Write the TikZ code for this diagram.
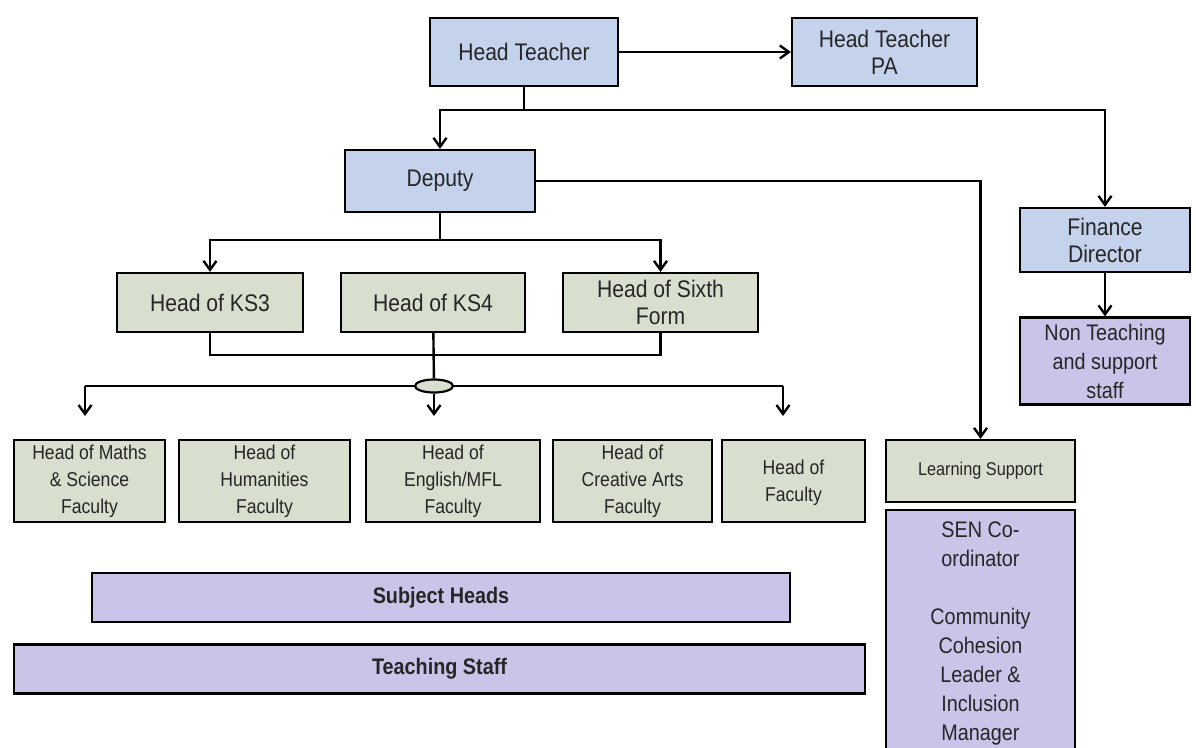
\documentclass[tikz,border=0pt]{standalone}
\usepackage{fontspec}
\setmainfont{Liberation Sans}[FakeStretch=0.88]
\usetikzlibrary{arrows.meta,positioning,shapes.geometric,shadows}

\definecolor{topblue}{RGB}{197,210,236}
\definecolor{midgreen}{RGB}{216,223,206}
\definecolor{lowlilac}{RGB}{202,196,232}
\definecolor{inkgrey}{RGB}{38,38,38}

\begin{document}
\begin{tikzpicture}[x=1pt,y=-1pt,
	box/.style={draw=black, line width=2.2pt, align=center, text=inkgrey, inner sep=2pt,
		general shadow={fill=black, shadow xshift=1.3pt, shadow yshift=-1.3pt}},
	topbox/.style={box, fill=topblue, font=\fontsize{24}{27}\selectfont},
	midbox/.style={box, fill=midgreen, font=\fontsize{24}{27}\selectfont},
	facbox/.style={box, fill=midgreen, minimum height=82pt, font=\fontsize{20}{27}\selectfont},
	lowbox/.style={box, fill=lowlilac, font=\fontsize{22.5}{29}\selectfont},
	barbox/.style={box, fill=lowlilac, minimum height=49pt, font=\bfseries\fontsize{22.5}{24}\selectfont},
	link/.style={line width=2.4pt},
	arr/.style={link, -{Straight Barb[length=9pt,width=13pt,line width=2.4pt]}}]
	\useasboundingbox (0,0) rectangle (1196,747);

	\node[topbox, minimum width=188pt, minimum height=68pt] (head) at (524,52) {Head Teacher};
	\node[topbox, minimum width=185pt, minimum height=68pt] (pa) at (884.5,52) {Head Teacher\\PA};
	\node[topbox, minimum width=190pt, minimum height=62pt] (deputy) at (440,181) {Deputy};
	\node[topbox, minimum width=170pt, minimum height=64pt] (finance) at (1105,240) {Finance\\Director};
	\node[lowbox, minimum width=170pt, minimum height=87pt] (nonteach) at (1105,361) {Non Teaching\\and support\\staff};

	\node[midbox, minimum width=186pt, minimum height=59pt] (ks3) at (210,302.5) {Head of KS3};
	\node[midbox, minimum width=184pt, minimum height=59pt] (ks4) at (433,302.5) {Head of KS4};
	\node[midbox, minimum width=195pt, minimum height=59pt] (sixth) at (660.5,302.5) {Head of Sixth\\Form};
	\node[ellipse, draw=black, line width=2.2pt, fill=midgreen, minimum width=38pt, minimum height=13pt, inner sep=0pt] (hub) at (434,386) {};

	\node[facbox, minimum width=151pt] (maths) at (89.5,481) {Head of Maths\\\& Science\\Faculty};
	\node[facbox, minimum width=171pt] (humanities) at (264.5,481) {Head of\\Humanities\\Faculty};
	\node[facbox, minimum width=174pt] (english) at (453,481) {Head of\\English/MFL\\Faculty};
	\node[facbox, minimum width=159pt] (arts) at (632.5,481) {Head of\\Creative Arts\\Faculty};
	\node[facbox, minimum width=143pt] (faculty) at (793.5,481) {Head of\\Faculty\\[-27pt]};

	\node[box, fill=midgreen, minimum width=189pt, minimum height=62pt, font=\fontsize{18.5}{20}\selectfont] (learning) at (980.5,471) {Learning Support};
	\node[lowbox, minimum width=189pt, minimum height=250pt] (sen) at (980.5,635) {SEN Co-\\ordinator\\[29pt]Community\\Cohesion\\Leader \&\\Inclusion\\Manager\\[-21pt]};

	\node[barbox, minimum width=698pt] (subject) at (441,597.5) {Subject Heads};
	\node[barbox, minimum width=851pt] (teaching) at (439.5,669) {Teaching Staff};

	\coordinate (htsplit) at (524,110);
	\coordinate (depsplit) at (440,240);
	\coordinate (keyjoin) at (433,355);
	\coordinate (leftdrop) at (85,386);
	\coordinate (rightdrop) at (783,386);
	\coordinate (leftend) at (85,416);
	\coordinate (midend) at (434,416);
	\coordinate (rightend) at (783,416);

	\path[arr]
		(head) edge (pa)
		(finance) edge (nonteach);
	\draw[link] (head) -- (htsplit);
	\draw[arr] (htsplit) -| (deputy);
	\draw[arr] (htsplit) -| (finance);
	\draw[arr] (deputy.east) -| (learning.north);
	\draw[link] (deputy) -- (depsplit);
	\draw[arr] (depsplit) -| (ks3);
	\draw[arr] (depsplit) -| (sixth);
	\draw[link] (ks3) |- (keyjoin) -| (sixth);
	\draw[link] (ks4) -- (hub);
	\draw[link] (leftdrop) -- (hub) -- (rightdrop);
	\draw[arr] (leftdrop) -- (leftend);
	\draw[arr] (hub) -- (midend);
	\draw[arr] (rightdrop) -- (rightend);
\end{tikzpicture}
\end{document}
